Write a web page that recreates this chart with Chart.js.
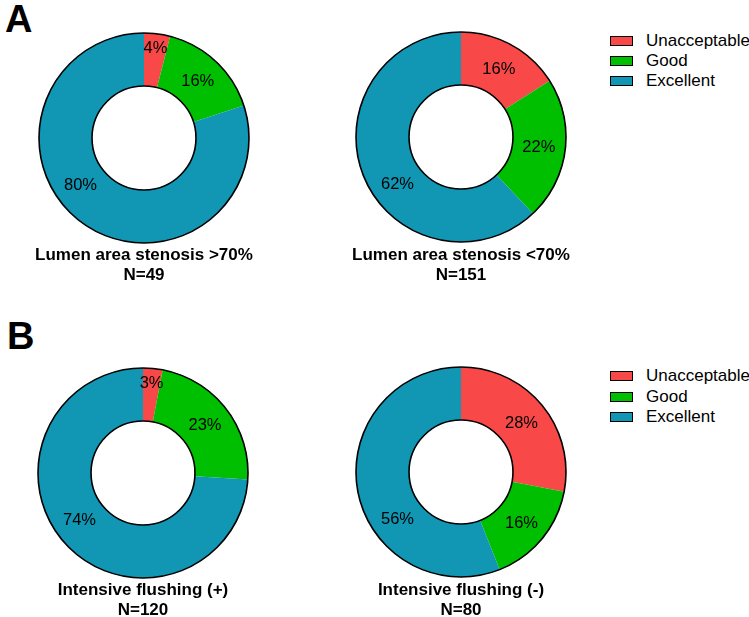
<!DOCTYPE html>
<html>
<head>
<meta charset="utf-8">
<script src="https://cdn.jsdelivr.net/npm/chart.js@4.4.1/dist/chart.umd.min.js"></script>
<style>
  body { margin: 0; background: #fff; font-family: "Liberation Sans", Arial, sans-serif; }
  #wrap { position: relative; width: 749px; height: 617px; overflow: hidden; }
  canvas { position: absolute; }
  .panel { position: absolute; font-weight: bold; font-size: 38px; line-height: 38px; color: #000; }
  .cap { position: absolute; width: 320px; text-align: center; font-weight: bold; font-size: 17px; line-height: 20px; color: #000; }
  .leg { position: absolute; left: 610px; font-size: 17px; color: #000; }
  .row { position: absolute; left: 0; height: 20px; line-height: 20px; white-space: nowrap; }
  .box { position: absolute; left: 0; top: 5px; width: 21px; height: 8px; border: 1.5px solid #000; }
  .txt { position: absolute; left: 36px; top: 0; }
</style>
</head>
<body>
<div id="wrap">
  <div class="panel" style="left:5px; top:0px;">A</div>
  <div class="panel" style="left:7px; top:317px;">B</div>

  <canvas id="c1" width="216" height="216" style="left:36px; top:30px;"></canvas>
  <canvas id="c2" width="216" height="216" style="left:353px; top:29px;"></canvas>
  <canvas id="c3" width="216" height="216" style="left:35px; top:365px;"></canvas>
  <canvas id="c4" width="216" height="216" style="left:353px; top:364px;"></canvas>

  <div class="cap" id="cap1" style="left:-16px; top:245px;"></div>
  <div class="cap" id="cap2" style="left:301px; top:245px;"></div>
  <div class="cap" id="cap3" style="left:-17px; top:580px;"></div>
  <div class="cap" id="cap4" style="left:301px; top:580px;"></div>

  <div class="leg" id="legA" style="top:31px;"></div>
  <div class="leg" id="legB" style="top:366px;"></div>
</div>

<script>
// categories and colours
var labels = ['Unacceptable', 'Good', 'Excellent'];
var colors = ['#F94848', '#00BE00', '#1196B3'];

// percentages per chart (Unacceptable, Good, Excellent)
var stenosisOver70 = [4, 16, 80];
var stenosisUnder70 = [16, 22, 62];
var flushingPlus = [3, 23, 74];
var flushingMinus = [28, 16, 56];

var titles = ['Lumen area stenosis >70%', 'Lumen area stenosis <70%', 'Intensive flushing (+)', 'Intensive flushing (-)'];
var counts = [49, 151, 120, 80];

// outline rings + percentage labels
var ringPlugin = {
	id: 'ring',
	afterDatasetsDraw: function(chart) {
		var ctx = chart.ctx;
		var meta = chart.getDatasetMeta(0);
		var p0 = meta.data[0].getProps(['x', 'y', 'outerRadius', 'innerRadius'], true);
		var cx = p0.x, cy = p0.y, ro = p0.outerRadius, ri = p0.innerRadius;
		ctx.save();
		ctx.lineWidth = 1.6;
		ctx.strokeStyle = '#000';
		ctx.beginPath(); ctx.arc(cx, cy, ro, 0, 2 * Math.PI); ctx.stroke();
		ctx.beginPath(); ctx.arc(cx, cy, ri, 0, 2 * Math.PI); ctx.stroke();

		ctx.font = '16.5px "Liberation Sans", Arial, sans-serif';
		ctx.fillStyle = '#000';
		ctx.textAlign = 'center';
		ctx.textBaseline = 'middle';
		var vals = chart.data.datasets[0].data;
		meta.data.forEach(function(arc, i) {
			var p = arc.getProps(['startAngle', 'endAngle'], true);
			var v = vals[i];
			var a = (p.startAngle + p.endAngle) / 2;
			var r = (ro + ri) / 2;
			if (v > 50) a = 144 * Math.PI / 180;   // big slice label sits lower-left
			if (v < 5) r = ro - 14;                // thin slice label pushed outward
			ctx.fillText(v + '%', cx + Math.cos(a) * r, cy + Math.sin(a) * r + 1);
		});
		ctx.restore();
	}
};

function makeChart(id, values) {
	return new Chart(document.getElementById(id), {
		type: 'doughnut',
		data: {
			labels: labels,
			datasets: [{
				data: values,
				backgroundColor: colors,
				borderWidth: 0
			}]
		},
		options: {
			responsive: false,
			animation: false,
			cutout: '49.5%',
			layout: { padding: 3 },
			plugins: {
				legend: { display: false },
				tooltip: { enabled: false }
			}
		},
		plugins: [ringPlugin]
	});
}

makeChart('c1', stenosisOver70);
makeChart('c2', stenosisUnder70);
makeChart('c3', flushingPlus);
makeChart('c4', flushingMinus);

// captions
for (var k = 0; k < 4; k++) {
	document.getElementById('cap' + (k + 1)).innerHTML = titles[k].replace('<', '&lt;').replace('>', '&gt;') + '<br>N=' + counts[k];
}

// legends
function makeLegend(id, step) {
	var el = document.getElementById(id);
	for (var i = 0; i < labels.length; i++) {
		var row = document.createElement('div');
		row.className = 'row';
		row.style.top = (i * step) + 'px';
		row.innerHTML = '<span class="box" style="background:' + colors[i] + '"></span><span class="txt">' + labels[i] + '</span>';
		el.appendChild(row);
	}
}
makeLegend('legA', 20);
makeLegend('legB', 20.5);
</script>
</body>
</html>
